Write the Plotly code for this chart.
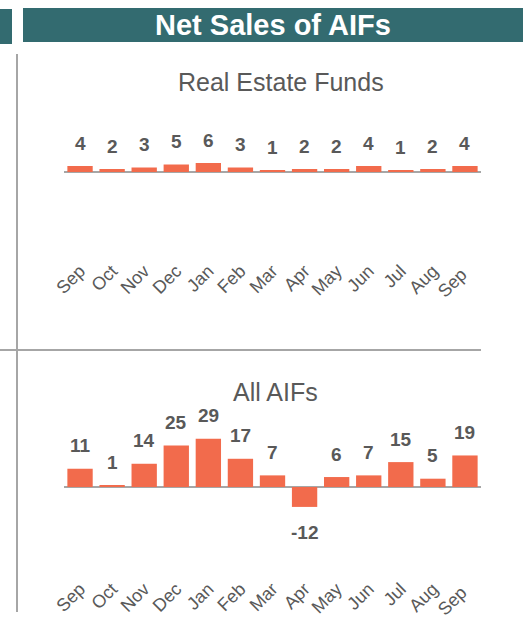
import plotly.graph_objects as go

months = ["Sep", "Oct", "Nov", "Dec", "Jan", "Feb", "Mar", "Apr", "May", "Jun", "Jul", "Aug", "Sep "]
real_estate = [4, 2, 3, 5, 6, 3, 1, 2, 2, 4, 1, 2, 4]
all_aifs = [11, 1, 14, 25, 29, 17, 7, -12, 6, 7, 15, 5, 19]

W, H = 523, 625
BAR = "#F26B4C"
GRAY_TXT = "#595959"
LINE = "#A6A6A6"
TEAL = "#336B70"
FONT = "Liberation Sans, Arial, sans-serif"

def yd(top_px, bot_px):
    return [1 - bot_px / H, 1 - top_px / H]

fig = go.Figure()
fig.add_trace(go.Bar(x=list(range(len(months))), y=real_estate, marker=dict(color=BAR, line=dict(width=0)),
                     xaxis="x", yaxis="y", hoverinfo="skip"))
fig.add_trace(go.Bar(x=list(range(len(months))), y=all_aifs, marker=dict(color=BAR, line=dict(width=0)),
                     xaxis="x2", yaxis="y2", hoverinfo="skip"))

xcommon = dict(tickmode="array", tickvals=list(range(len(months))), ticktext=months,
               tickangle=-45, tickfont=dict(family=FONT, size=18, color=GRAY_TXT),
               showgrid=False, zeroline=False, showline=False, ticks="", automargin=False,
               range=[-0.5, len(months) - 0.5], domain=[64 / W, 481 / W], fixedrange=True)
ycommon = dict(showgrid=False, showticklabels=False, ticks="", showline=False, automargin=False,
               zeroline=True, zerolinecolor=LINE, zerolinewidth=2, fixedrange=True)

# plot-area pixel rows
T1_TOP, T1_BASE, T1_BOT, T1_SCALE = 100, 172, 256, 1.5
T2_TOP, T2_BASE, T2_BOT, T2_SCALE = 410, 487, 574, 1.66

fig.update_layout(
    width=W, height=H, margin=dict(l=0, r=0, t=0, b=0, pad=0, autoexpand=False),
    paper_bgcolor="white", plot_bgcolor="white", showlegend=False, bargap=0.21,
    xaxis=dict(**xcommon, anchor="y"),
    yaxis=dict(**ycommon, domain=yd(T1_TOP, T1_BOT),
               range=[-(T1_BOT - T1_BASE) / T1_SCALE, (T1_BASE - T1_TOP) / T1_SCALE], anchor="x"),
    xaxis2=dict(**xcommon, anchor="y2"),
    yaxis2=dict(**ycommon, domain=yd(T2_TOP, T2_BOT),
                range=[-(T2_BOT - T2_BASE) / T2_SCALE, (T2_BASE - T2_TOP) / T2_SCALE], anchor="x2"),
    font=dict(family=FONT, color=GRAY_TXT),
)

ann = []
for i, v in enumerate(real_estate):
    ann.append(dict(x=i, y=v, xref="x", yref="y", text=f"<b>{v}</b>", showarrow=False,
                    xanchor="center", yanchor="middle", yshift=23 if v >= 0 else -25,
                    font=dict(family=FONT, size=19, color=GRAY_TXT)))
for i, v in enumerate(all_aifs):
    ann.append(dict(x=i, y=v, xref="x2", yref="y2", text=f"<b>{v}</b>", showarrow=False,
                    xanchor="center", yanchor="middle", yshift=23 if v >= 0 else -26,
                    font=dict(family=FONT, size=19, color=GRAY_TXT)))

ann.append(dict(x=281 / W, y=1 - 82 / H, xref="paper", yref="paper", text="Real Estate Funds",
                xanchor="center", yanchor="middle",
                showarrow=False, font=dict(family=FONT, size=25, color=GRAY_TXT)))
ann.append(dict(x=275 / W, y=1 - 392 / H, xref="paper", yref="paper", text="All AIFs",
                xanchor="center", yanchor="middle",
                showarrow=False, font=dict(family=FONT, size=25, color=GRAY_TXT)))
ann.append(dict(x=273 / W, y=1 - 25 / H, xref="paper", yref="paper", text="<b>Net Sales of AIFs</b>",
                xanchor="center", yanchor="middle",
                showarrow=False, font=dict(family=FONT, size=29, color="white")))

shapes = [
    dict(type="rect", xref="paper", yref="paper", x0=23 / W, x1=1, y0=1 - 42 / H, y1=1 - 8 / H,
         fillcolor=TEAL, line=dict(width=0), layer="below"),
    dict(type="rect", xref="paper", yref="paper", x0=0, x1=12 / W, y0=1 - 44 / H, y1=1 - 9 / H,
         fillcolor=TEAL, line=dict(width=0), layer="below"),
    dict(type="line", xref="paper", yref="paper", x0=17 / W, x1=17 / W, y0=1 - 612 / H, y1=1 - 54 / H,
         line=dict(color=LINE, width=2)),
    dict(type="line", xref="paper", yref="paper", x0=0, x1=481 / W, y0=1 - 350 / H, y1=1 - 350 / H,
         line=dict(color=LINE, width=2)),
]
fig.update_layout(annotations=ann, shapes=shapes)

fig.write_html(
    "out.html", config={"displayModeBar": False},
    post_script=(
        "document.documentElement.style.margin='0';document.body.style.margin='0';"
        "document.body.style.overflow='hidden';"
        "var d=document.getElementById('{plot_id}');"
        "d.style.position='absolute';d.style.left='0px';d.style.top='0px';"
    ),
)
